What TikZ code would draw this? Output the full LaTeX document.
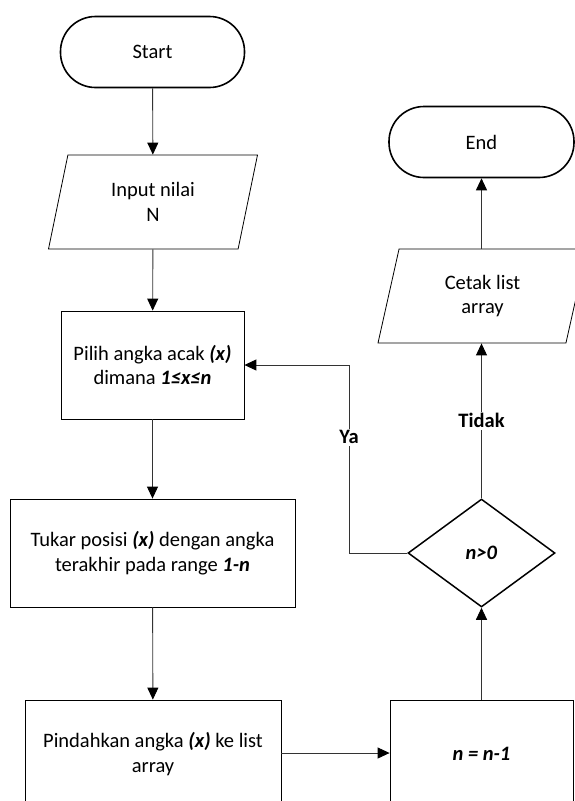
\documentclass[tikz,border=0pt]{standalone}
\usepackage{fontspec}
\setmainfont{Carlito}
\usetikzlibrary{arrows.meta,shapes.geometric}
\newcommand{\bi}[1]{\textbf{\textit{#1}}}

\begin{document}
\begin{tikzpicture}[x=1pt, y=-1pt,
        every node/.style={font=\fontsize{20.5}{24.5}\selectfont, align=center},
        terminal/.style={draw, line width=1.6pt, rounded corners=35pt, minimum width=184pt, minimum height=71pt},
        io/.style={draw, line width=0.8pt, trapezium, trapezium left angle=63.4, trapezium right angle=116.6, trapezium stretches body, minimum width=209pt, minimum height=94pt, inner sep=0pt},
        process/.style={draw, line width=0.8pt, minimum height=108pt},
        decision/.style={draw, line width=1.5pt, diamond, minimum width=147pt, minimum height=108pt, inner sep=0pt},
        flow/.style={-{Triangle[length=12pt,width=11pt,color=black]}, line width=0.9pt, black!80},
        answer/.style={fill=white, text=black, font=\fontsize{20.5}{24.5}\selectfont\bfseries, inner sep=2pt}]
        \clip (0,0) rectangle (575,801);

        \node[terminal] (start) at (152.5,52) {Start};
        \node[io] (inp) at (153,202) {Input nilai\\N};
        \node[process, minimum width=183pt] (pilih) at (152.5,365) {Pilih angka acak \bi{(x)}\\dimana \bi{1≤x≤n}};
        \node[process, minimum width=285pt] (tukar) at (152.5,553) {Tukar posisi \bi{(x)} dengan angka\\terakhir pada range \bi{1-n}};
        \node[process, minimum width=256pt] (pindah) at (153,754) {Pindahkan angka \bi{(x)} ke list\\array};
        \node[process, minimum width=183pt] (kurang) at (481.5,754) {\bi{n = n-1}};
        \node[decision] (cek) at (481.5,553) {\bi{n>0}};
        \node[io] (cetak) at (482.5,296) {Cetak list\\array};
        \node[terminal, minimum width=185pt] (end) at (481.5,142) {End};
        \coordinate (belok) at (349,553);

        \draw[flow] (start) -- (inp);
        \draw[flow] (inp) -- (pilih);
        \draw[flow] (pilih) -- (tukar);
        \draw[flow] (tukar) -- (pindah);
        \draw[flow] (pindah.east |- 0,753) -- (kurang.west |- 0,753);
        \draw[flow] (kurang) -- (cek);
        \draw[flow] (cek.west) -- (belok) -- node[answer, pos=0.615] {Ya} (belok |- pilih.east) -- (pilih.east);
        \draw[flow] (cek.north) -- node[answer] {Tidak} (cek.north |- cetak.south);
        \draw[flow] (cek.north |- cetak.north) -- (end);
    \end{tikzpicture}
\end{document}
